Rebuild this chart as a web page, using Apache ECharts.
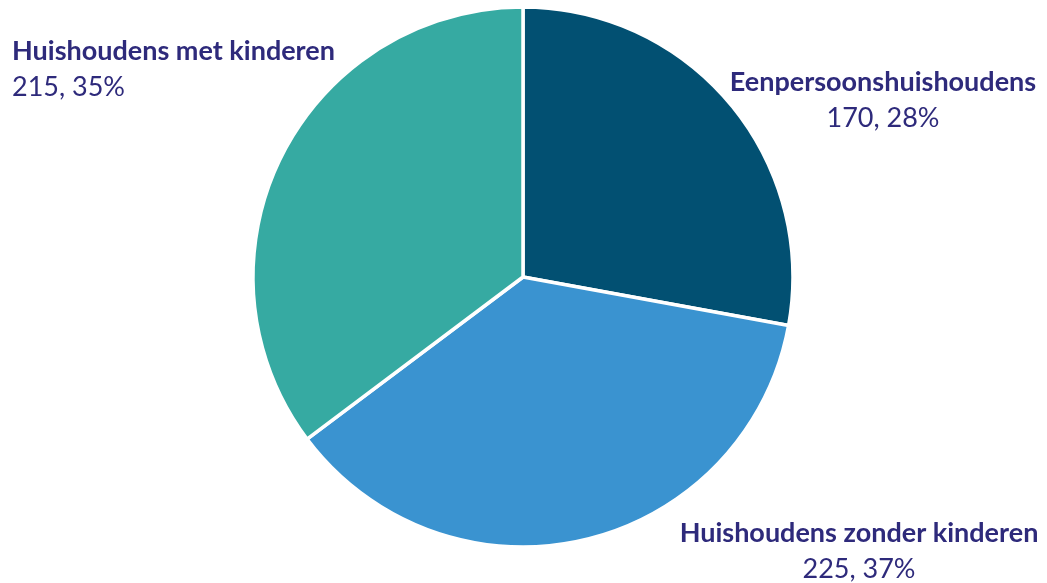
<!DOCTYPE html>
<html><head><meta charset="utf-8">
<script src="https://cdn.jsdelivr.net/npm/echarts@6/dist/echarts.min.js"></script>
<style>html,body{margin:0;padding:0;background:#fff}#c{width:1047px;height:583px}</style>
</head><body><div id="c"></div>
<script>
const categories = ['Eenpersoonshuishoudens', 'Huishoudens zonder kinderen', 'Huishoudens met kinderen'];
const values = [170, 225, 215];
const colors = ['#025072', '#3a93d0', '#36aaa2'];
const labelPos = [
  {x: 883, y: 64, align: 'center'},
  {x: 859, y: 515, align: 'center'},
  {x: 12, y: 33, align: 'left'}
];
const chart = echarts.init(document.getElementById('c'), null, {renderer: 'canvas'});
chart.setOption({
  animation: false,
  series: [{
    type: 'pie',
    center: [523, 277],
    radius: 270,
    startAngle: 90,
    clockwise: true,
    percentPrecision: 0,
    data: categories.map((n, i) => ({name: n, value: values[i], itemStyle: {color: colors[i]}})),
    itemStyle: {borderColor: '#fff', borderWidth: 3.5},
    labelLine: {show: false},
    label: {
      show: true,
      position: 'inside',
      overflow: 'none',
      formatter: '{b|{b}}\n{c|{c}, {d}%}',
      color: '#2e2a7b',
      align: 'center',
      rich: {
        b: {fontFamily: 'Lato', fontWeight: 'bold', fontSize: 27, lineHeight: 36, color: '#2e2a7b'},
        c: {fontFamily: 'Lato', fontSize: 27, lineHeight: 36, color: '#2e2a7b'}
      }
    },
    labelLayout: function (p) {
      const lp = labelPos[p.dataIndex];
      return {x: lp.x, y: lp.y, align: lp.align, verticalAlign: 'top', hideOverlap: false};
    }
  }]
});
</script></body></html>
